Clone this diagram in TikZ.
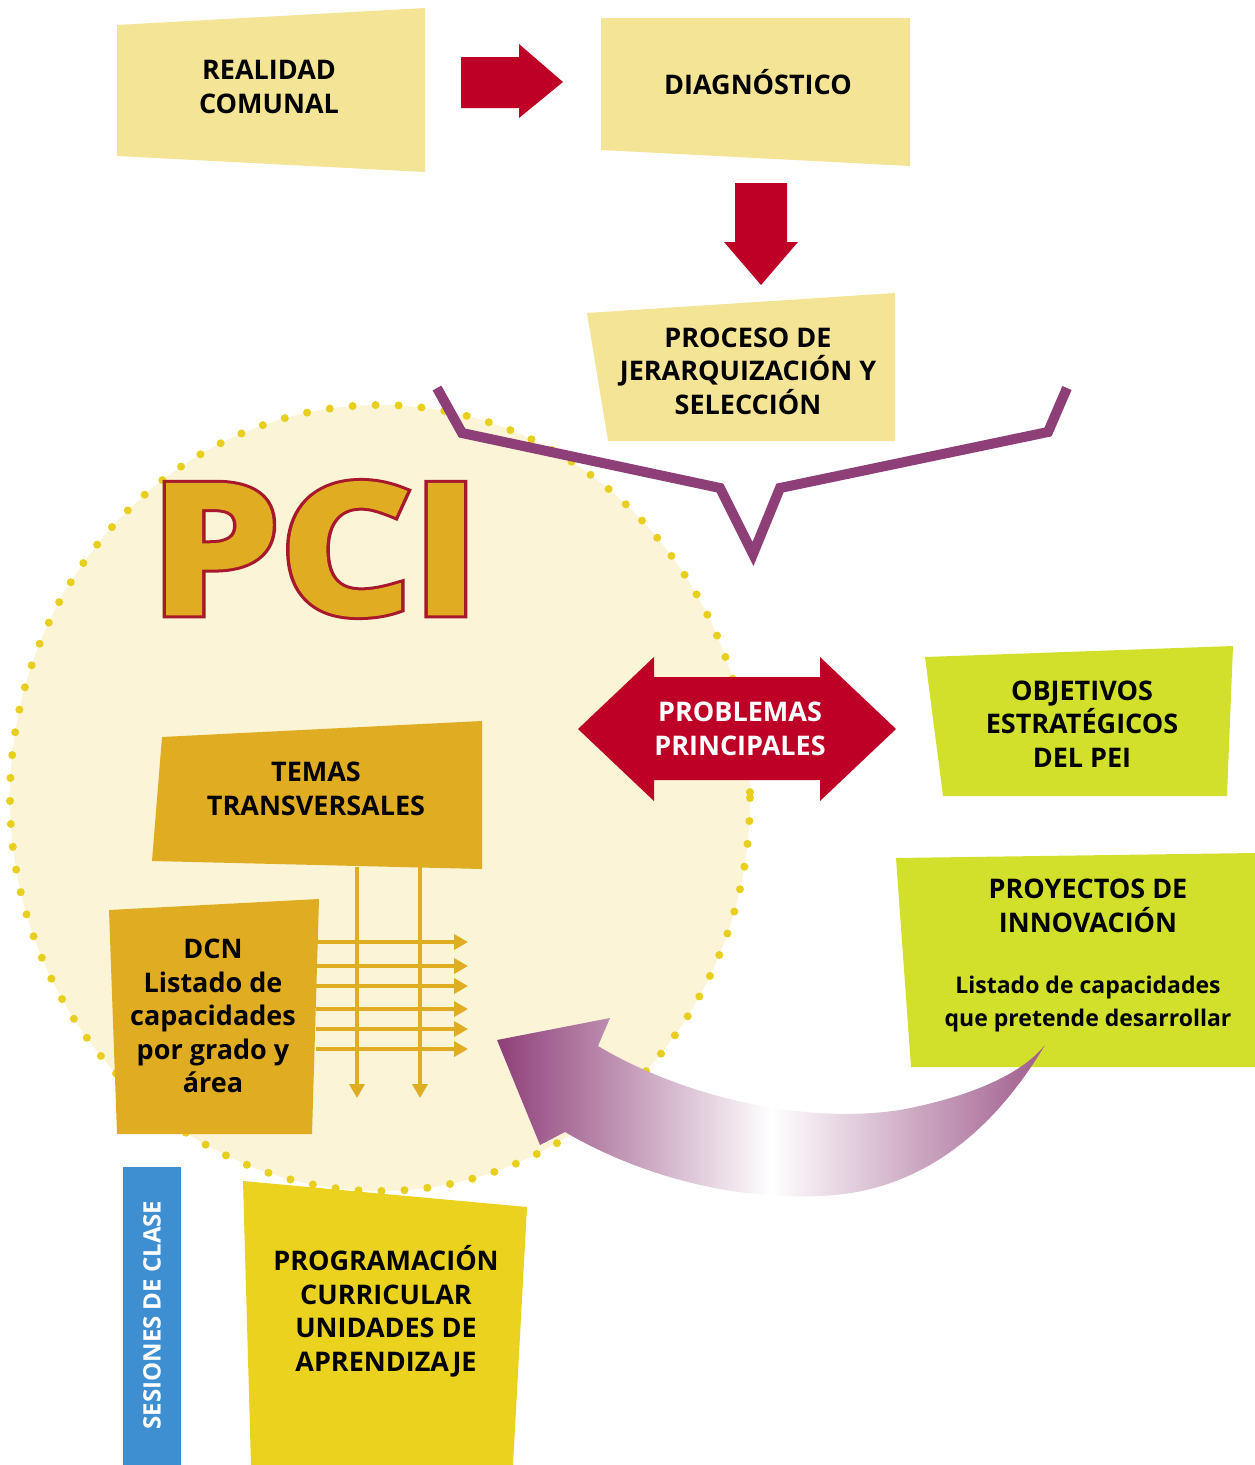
\documentclass[tikz,border=0pt]{standalone}
\usepackage{fontspec}
\setmainfont{Open Sans}
\usetikzlibrary{arrows.meta,calc}
\definecolor{pale}{HTML}{F4E495}
\definecolor{redA}{HTML}{BE0027}
\definecolor{purp}{HTML}{8E3F78}
\definecolor{circfill}{HTML}{FBF4D6}
\definecolor{dotc}{HTML}{E8CF1E}
\definecolor{gold}{HTML}{E0AC22}
\definecolor{lime}{HTML}{D2E02B}
\definecolor{blueS}{HTML}{3D8FD1}
\definecolor{yel}{HTML}{EBD21E}
\definecolor{pcired}{HTML}{A8182C}
\newcommand\strokeText[3]{\special{pdf:literal direct 2 Tr #1 w #2 RG}#3\special{pdf:literal direct 0 Tr}}
\begin{document}
\begin{tikzpicture}[x=1pt,y=-1pt,
  txt/.style={font=\bfseries\fontsize{27}{33.5}\selectfont, align=center, text=black, inner sep=0pt},
  small/.style={font=\bfseries\fontsize{23}{33}\selectfont, align=center, text=black, inner sep=0pt},
  goldarrow/.style={gold, line width=4pt, -{Triangle[length=14pt,width=15pt]}},
  pcitext/.style={font=\bfseries\fontsize{180}{180}\selectfont, inner sep=0pt, xscale=1.15, transform shape}]
\useasboundingbox (0,0) rectangle (1255,1465);
% circle
\fill[circfill] (380,798) ellipse [x radius=370, y radius=393];
\draw[dotc, line width=8pt, line cap=round, dash pattern=on 0pt off 23pt] (380,798) ellipse [x radius=370, y radius=393];
% top boxes
\fill[pale] (117,25) -- (425,8) -- (425,172) -- (117,156) -- cycle;
\node[txt] (realidad) at (269,87) {REALIDAD\\COMUNAL};
\fill[redA] (461,57) -- (519,57) -- (519,44) -- (563,82) -- (519,118) -- (519,108) -- (461,108) -- cycle;
\fill[pale] (601,18) -- (910,18) -- (910,166) -- (601,150) -- cycle;
\node[txt] (diag) at (758,82) {DIAGNÓSTICO};
\fill[redA] (735,183) -- (787,183) -- (787,242) -- (798,242) -- (761,285) -- (724,242) -- (735,242) -- cycle;
\fill[pale] (587,313) -- (895,293) -- (895,441) -- (608,441) -- cycle;
\node[txt] (proceso) at (748,371) {PROCESO DE\\JERARQUIZACIÓN Y\\SELECCIÓN};
% purple bracket
\draw[purp, line width=10pt, line join=miter] (437,388) -- (462,433) -- (720,488) -- (753,554) -- (780,488) -- (1048,432) -- (1067,388);
% PCI
\node[pcitext, text=pcired] (pcioutline) at (315,549) {\strokeText{10}{0.659 0.094 0.173}{PCI}};
\node[pcitext, text=gold] (pci) at (315,549) {\strokeText{4}{0.878 0.675 0.133}{PCI}};
% problemas
\fill[redA] (578,729) -- (654,657) -- (654,677) -- (820,677) -- (820,657) -- (896,729) -- (820,801) -- (820,780) -- (654,780) -- (654,801) -- cycle;
\node[txt, text=white] (problemas) at (740,729) {PROBLEMAS\\PRINCIPALES};
% objetivos
\fill[lime] (925,657) -- (1233,646) -- (1227,796) -- (943,796) -- cycle;
\node[txt] (objetivos) at (1082,724) {OBJETIVOS\\ESTRATÉGICOS\\DEL PEI};
% proyectos
\fill[lime] (896,858) -- (1255,853) -- (1255,1067) -- (911,1067) -- cycle;
\node[txt] (proyectos) at (1088,906) {PROYECTOS DE\\INNOVACIÓN};
\node[small] (listado) at (1088,1004) {Listado de capacidades\\que pretende desarrollar};
% temas
\fill[gold] (162,737) -- (482,721) -- (482,869) -- (152,861) -- cycle;
\node[txt] (temas) at (316,789) {TEMAS\\TRANSVERSALES};
% dcn
\fill[gold] (109,910) -- (319,899) -- (312,1134) -- (117,1134) -- cycle;
\node[txt] (dcn) at (213,1016) {DCN\\Listado de\\capacidades\\por grado y\\área};
% gold arrows
\foreach \xx/\n in {357/a,420/b}{
  \coordinate (vs\n) at (\xx,867);
  \coordinate (ve\n) at (\xx,1098);
  \draw[goldarrow] (vs\n) -- (ve\n);
}
\foreach \yy/\n in {942/1,966/2,986/3,1009/4,1029/5,1049/6}{
  \coordinate (hs\n) at (316,\yy);
  \coordinate (he\n) at (468,\yy);
  \draw[goldarrow] (hs\n) -- (he\n);
}
% curved arrow
\shade[left color=purp, right color=purp!85, middle color=white]
 (497,1040) -- (610,1018) -- (598,1046) .. controls (680,1095) and (800,1125) .. (900,1110) .. controls (980,1095) and (1025,1070) .. (1045,1045) .. controls (1000,1120) and (930,1192) .. (820,1196) .. controls (720,1200) and (630,1170) .. (565,1132) -- (540,1145) -- cycle;
% bottom
\fill[blueS] (123,1167) rectangle (181,1465);
\node[txt, text=white, rotate=90, font=\bfseries\fontsize{24}{30}\selectfont] (sesiones) at (152,1315) {SESIONES DE CLASE};
\fill[yel] (243,1181) -- (527,1207) -- (513,1465) -- (251,1465) -- cycle;
\node[txt] (programacion) at (386,1311) {PROGRAMACIÓN\\CURRICULAR\\UNIDADES DE\\APRENDIZAJE};
\end{tikzpicture}
\end{document}
